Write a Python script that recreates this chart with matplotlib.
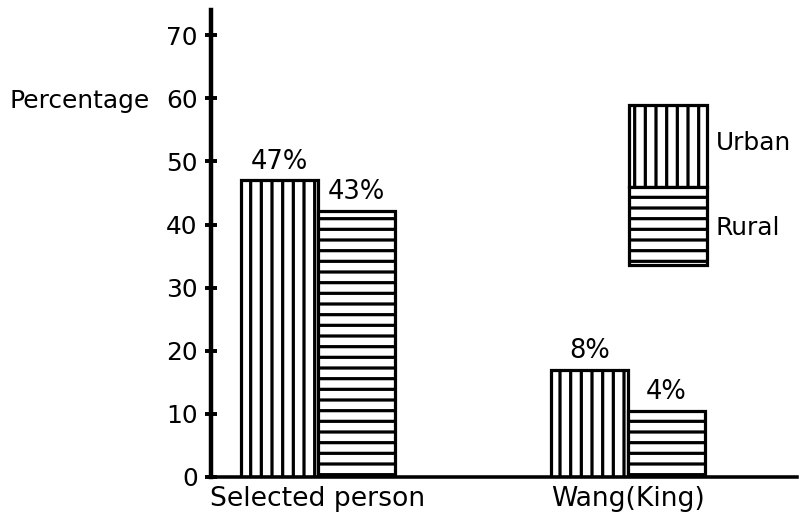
import matplotlib
matplotlib.use("Agg")
import matplotlib.pyplot as plt
import matplotlib.transforms as mtransforms
from matplotlib.patches import Rectangle
import numpy as np

# ---- data ----
groups = ["Selected person", "Wang(King)"]
urban = [47.0, 17.0]
rural = [42.2, 10.5]
urban_labels = ["47%", "8%"]
rural_labels = ["43%", "4%"]
yticks = [0, 10, 20, 30, 40, 50, 60, 70]
legend_names = ["Urban", "Rural"]
legend_hatches = ["||", "--"]

DPI = 128
W, H = 800, 519
plt.rcParams["hatch.linewidth"] = 1.8
plt.rcParams["font.size"] = 14

fig = plt.figure(figsize=(W / DPI, H / DPI), dpi=DPI)
ax = fig.add_axes([211 / W, 42 / H, (797 - 211) / W, (477 - 10) / H])

x = np.arange(len(groups))
w = 0.248
style = dict(facecolor="white", edgecolor="black", linewidth=1.8)
b1 = ax.bar(x - w / 2, urban, w, hatch=legend_hatches[0], **style)
b2 = ax.bar(x + w / 2, rural, w, hatch=legend_hatches[1], **style)
ax.bar_label(b1, labels=urban_labels, padding=3, fontsize=14.5)
ax.bar_label(b2, labels=rural_labels, padding=3, fontsize=14.5)

ax.set_xlim(-0.345, 1.545)
ax.set_ylim(0, 74)
ax.set_yticks(yticks)
ax.set_xticks(x, groups)
ax.tick_params(axis="x", length=0, pad=5, labelsize=15)
ax.tick_params(axis="y", direction="inout", length=7, width=2.2, pad=4)
for s in ["top", "right"]:
    ax.spines[s].set_visible(False)
ax.spines["left"].set_linewidth(2.5)
ax.spines["bottom"].set_linewidth(2)

# y label sits inline with the 60 tick
trans = mtransforms.blended_transform_factory(ax.transAxes, ax.transData)
ax.text(-0.104, 60, "Percentage", transform=trans, ha="right", va="center_baseline")

# legend: two stacked hatched boxes, drawn by hand (figure pixels from top)
box_top = [105, 187]
box_bot = [187, 265]
for name, hatch, t, b in zip(legend_names, legend_hatches, box_top, box_bot):
    fig.add_artist(Rectangle((629 / W, 1 - b / H), 78 / W, (b - t) / H,
                             transform=fig.transFigure, hatch=hatch, **style))
text_y = [143, 228]
for name, ty in zip(legend_names, text_y):
    fig.text(716 / W, 1 - ty / H, name, ha="left", va="center")

fig.savefig("out.png", dpi=DPI)
